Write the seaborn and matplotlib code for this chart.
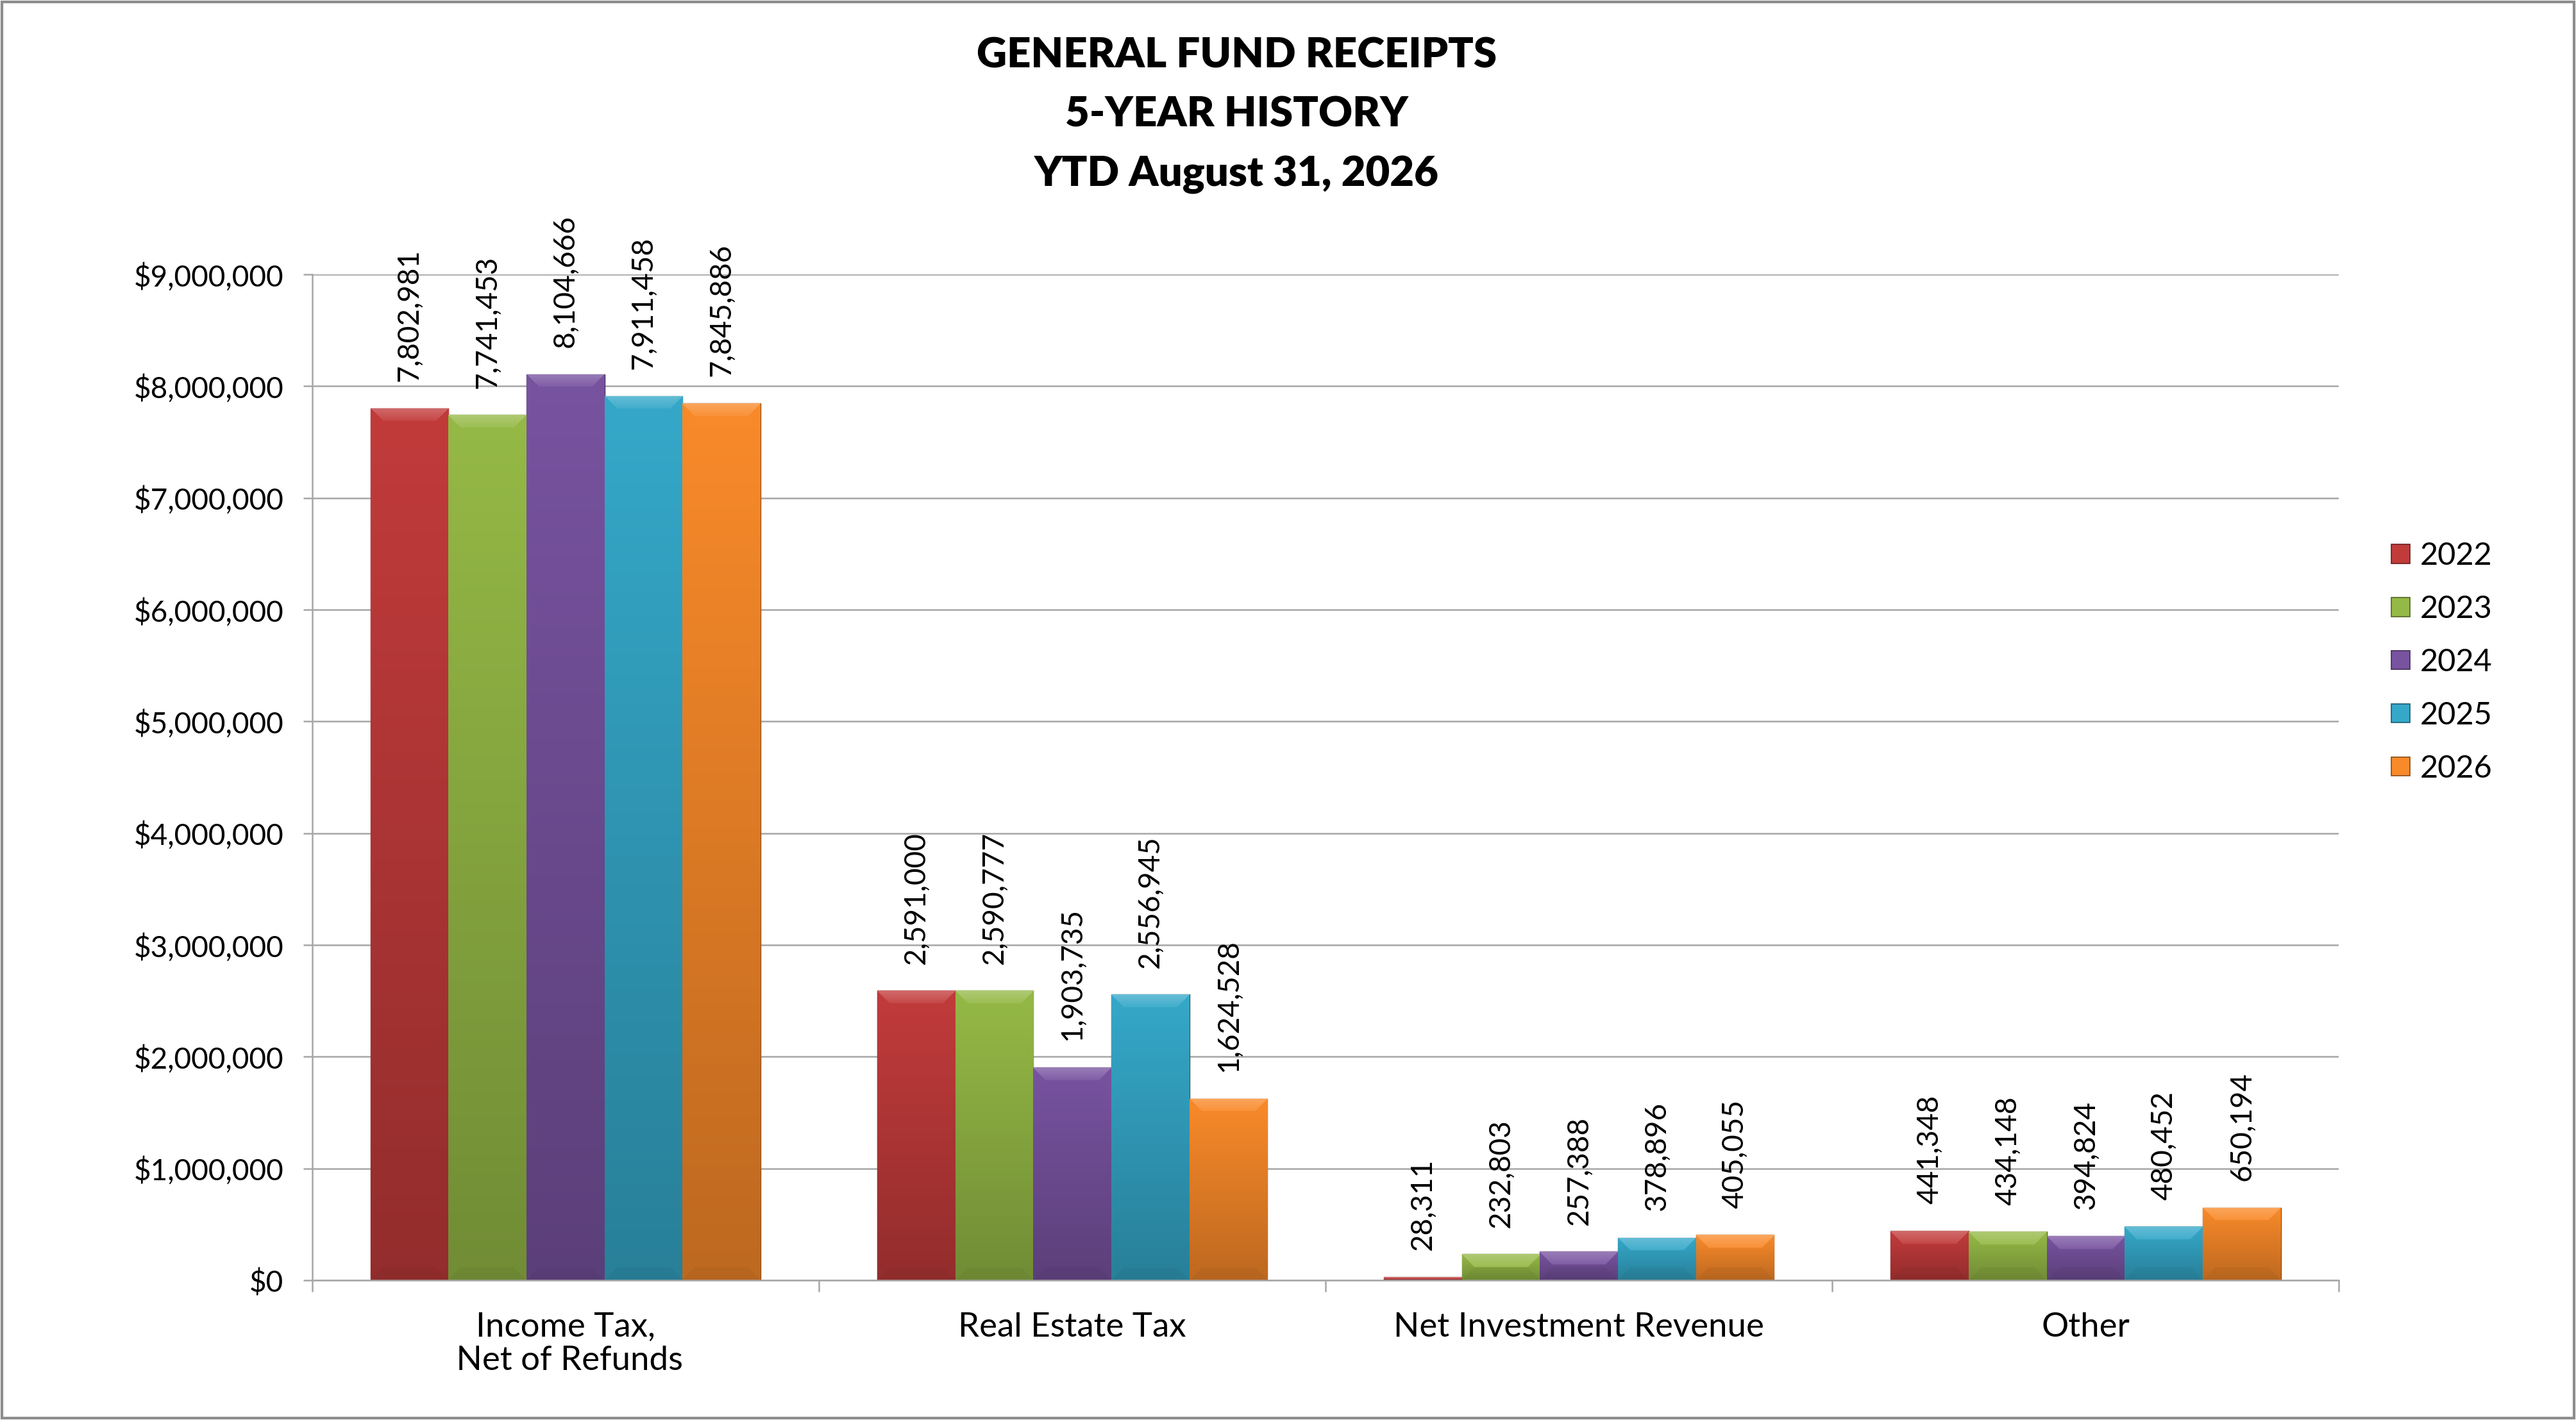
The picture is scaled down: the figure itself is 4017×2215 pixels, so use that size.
import numpy as np
import pandas as pd
import seaborn as sns
import matplotlib
matplotlib.use("Agg")
import matplotlib.pyplot as plt
from matplotlib.colors import to_rgb
from matplotlib.patches import Rectangle, Patch
from matplotlib.ticker import FuncFormatter, FixedLocator

categories = ["Income Tax,\n Net of Refunds", "Real Estate Tax", "Net Investment Revenue", "Other"]
years = ["2022", "2023", "2024", "2025", "2026"]
v2022 = [7802981, 2591000, 28311, 441348]
v2023 = [7741453, 2590777, 232803, 434148]
v2024 = [8104666, 1903735, 257388, 394824]
v2025 = [7911458, 2556945, 378896, 480452]
v2026 = [7845886, 1624528, 405055, 650194]
colors = ["#C23B3B", "#95B946", "#7853A0", "#35A8C9", "#F98A2A"]

rows = []
for yr, vals in zip(years, [v2022, v2023, v2024, v2025, v2026]):
    for c, v in zip(categories, vals):
        rows.append({"category": c, "year": yr, "value": v})
df = pd.DataFrame(rows)

sns.set_theme(style="white")
plt.rcParams["font.family"] = ["Lato", "DejaVu Sans"]
plt.rcParams["text.color"] = "black"
plt.rcParams["xtick.color"] = "black"
plt.rcParams["ytick.color"] = "black"

fig = plt.figure(figsize=(20.085, 11.075), dpi=200)
ax = fig.add_axes([0.1212, 0.0984, 0.7868, 0.7084])

sns.barplot(data=df, x="category", y="value", hue="year", palette=colors,
            width=0.77, saturation=1, ax=ax, legend=False, errorbar=None)

ymax = 9000000
ax_h_px = 0.7084 * 2215


def shade(c, f):
    c = np.array(to_rgb(c))
    if f >= 0:
        return c + (1 - c) * f
    return c * (1 + f)


# fake the glossy bevelled look of the spreadsheet bars
for cont, col in zip(ax.containers, colors):
    for bar in cont:
        x, w, h = bar.get_x(), bar.get_width(), bar.get_height()
        hp = max(int(h / ymax * ax_h_px), 2)
        wp = 122
        top = shade(col, 0.0)
        bot = shade(col, -0.24)
        t = np.linspace(0, 1, hp)[:, None, None]
        img = np.repeat(top * (1 - t) + bot * t, wp, axis=1)
        d = min(20, hp // 2)
        for r in range(d):
            img[r, r:wp - r] = shade(col, 0.18 * (1 - r / max(d, 1)) + 0.06)
            img[hp - 1 - r, r:wp - r] = img[hp - 1 - r, r:wp - r] * 0.96
        im = ax.imshow(img, extent=[x, x + w, 0, h], aspect="auto",
                       origin="upper", zorder=bar.get_zorder() + 0.1,
                       interpolation="bilinear")
        im.set_clip_path(bar)
        bar.set_edgecolor(shade(col, -0.45))
        bar.set_linewidth(0.5)
    ax.bar_label(cont, labels=[f"{b.get_height():,.0f}" for b in cont],
                 rotation=90, padding=15, fontsize=16.5, zorder=5, color="black")

ax.set_xlim(-0.5, 3.5)
ax.set_ylim(0, ymax)
ax.set_yticks(np.arange(0, ymax + 1, 1000000))
ax.yaxis.set_major_formatter(FuncFormatter(lambda v, p: f"${v:,.0f}"))
ax.yaxis.grid(True, color="#A6A6A6", linewidth=0.9)
ax.set_axisbelow(True)

ax.set_xticks(range(len(categories)))
ax.set_xticklabels(categories, fontsize=19, linespacing=1.12)
ax.xaxis.set_minor_locator(FixedLocator(np.arange(-0.5, 3.6, 1)))
ax.tick_params(axis="x", which="major", length=0, pad=18)
ax.tick_params(axis="x", which="minor", length=6.5, width=0.9, color="#A6A6A6", bottom=True)
ax.tick_params(axis="y", length=5, width=0.9, color="#A6A6A6", labelcolor="black",
               labelsize=16.5, pad=11, left=True)
ax.tick_params(axis="x", labelcolor="black")
ax.set_xlabel("")
ax.set_ylabel("")

for s in ["top", "right"]:
    ax.spines[s].set_visible(False)
for s in ["left", "bottom"]:
    ax.spines[s].set_color("#A6A6A6")
    ax.spines[s].set_linewidth(0.9)

handles = [Patch(facecolor=c, edgecolor=shade(c, -0.45), linewidth=0.6) for c in colors]
fig.legend(handles, years, loc="center left", bbox_to_anchor=(3729 / 4017, 1 - 1033 / 2215),
           bbox_transform=fig.transFigure, frameon=False, fontsize=17.5,
           handlelength=0.6, handleheight=0.55, handletextpad=0.32,
           labelspacing=0.8, borderpad=0, borderaxespad=0)

title_lines = ["GENERAL FUND RECEIPTS", "5-YEAR HISTORY", "YTD August 31, 2026"]
for line, yy in zip(title_lines, [0.9607, 0.9190, 0.8770]):
    fig.text(0.480, yy, line, ha="center", va="center", fontsize=23.5,
             fontweight="heavy", color="black")

fig.patches.append(Rectangle((0.0008, 0.0012), 0.9984, 0.9976, transform=fig.transFigure,
                             fill=False, edgecolor="#8C8C8C", linewidth=1.5))

fig.savefig("out.png", dpi=200)
